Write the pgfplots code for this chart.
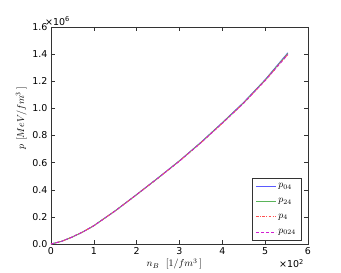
\documentclass[border=0pt]{standalone}
\usepackage[no-math]{fontspec}
\setmainfont{DejaVu Sans}
\usepackage{pgfplots}
\pgfplotsset{compat=1.18}
\definecolor{colB}{RGB}{90,90,255}
\definecolor{colG}{RGB}{90,180,90}
\definecolor{colR}{RGB}{255,80,80}
\definecolor{colM}{RGB}{210,30,210}
\begin{document}
\begin{tikzpicture}
\begin{axis}[name=ax, scale only axis, width=257bp, height=217bp,
  xmin=0, xmax=600, ymin=0, ymax=1600000,
  scaled ticks=false, clip=false,
  xtick={0,100,200,300,400,500,600}, xticklabels={0,1,2,3,4,5,6},
  ytick={0,200000,400000,600000,800000,1000000,1200000,1400000,1600000},
  yticklabels={0.0,0.2,0.4,0.6,0.8,1.0,1.2,1.4,1.6},
  tick align=inside, major tick length=4bp,
  tick label style={font=\fontsize{9.5}{11}\selectfont},
  axis line style={black!80, line width=0.6pt},
  every tick/.style={black!80, line width=0.5pt},
  xlabel={$n_B\ \ [1/fm^3\,]$}, ylabel={$p\ [MeV/fm^3\,]$},
  label style={font=\fontsize{10}{12}\selectfont},
  xlabel style={at={(ticklabel cs:0.48)}, anchor=near ticklabel, yshift=3bp},
  ylabel style={at={(ticklabel cs:0.58)}, anchor=near ticklabel, yshift=-1bp},
  legend style={at={(0.973,0.018)}, anchor=south east, draw=black!80, fill=white,
    font=\fontsize{10}{12}\selectfont, row sep=5.5bp, inner sep=3bp, cells={anchor=west}},
  legend image code/.code={\draw[#1] (0bp,0bp) -- (20bp,0bp);},
]
\addplot[colB, line width=0.9bp] coordinates {(0,0) (25,20000) (50,52000) (75,90000) (100,135000) (150,245000) (200,365000) (250,488000) (300,614000) (350,750000) (400,895000) (450,1045000) (500,1212000) (553,1410000)};
\addlegendentry{$p_{04}$}
\addplot[colG, line width=0.9bp] coordinates {(0,0) (25,20000) (50,52000) (75,90000) (100,135000) (150,245000) (200,364000) (250,487000) (300,613000) (350,748000) (400,893000) (450,1042000) (500,1209000) (553,1405000)};
\addlegendentry{$p_{24}$}
\addplot[colR, line width=0.9bp, dash pattern=on 2.5bp off 1.5bp on 0.8bp off 1.5bp] coordinates {(0,0) (25,20000) (50,52000) (75,90000) (100,135000) (150,244000) (200,364000) (250,486000) (300,612000) (350,747000) (400,891000) (450,1040000) (500,1206000) (553,1399000)};
\addlegendentry{$p_{4}$}
\addplot[colM, line width=0.9bp, dash pattern=on 3bp off 2bp] coordinates {(0,0) (25,20000) (50,52000) (75,90000) (100,135000) (150,244000) (200,364000) (250,486000) (300,611000) (350,746000) (400,890000) (450,1039000) (500,1205000) (553,1397000)};
\addlegendentry{$p_{024}$}
\node[anchor=south west, inner sep=0pt, font=\fontsize{9.5}{11}\selectfont] at ([xshift=-6bp,yshift=1bp]rel axis cs:0,1) {×10\textsuperscript{6}};
\node[anchor=north east, inner sep=0pt, font=\fontsize{9.5}{11}\selectfont] at ([xshift=-4bp,yshift=-15bp]rel axis cs:1,0) {×10\textsuperscript{2}};
\path (rel axis cs:0,0) ++(-51bp,-29bp) rectangle ++(341bp,273bp);
\end{axis}
\end{tikzpicture}
\end{document}
